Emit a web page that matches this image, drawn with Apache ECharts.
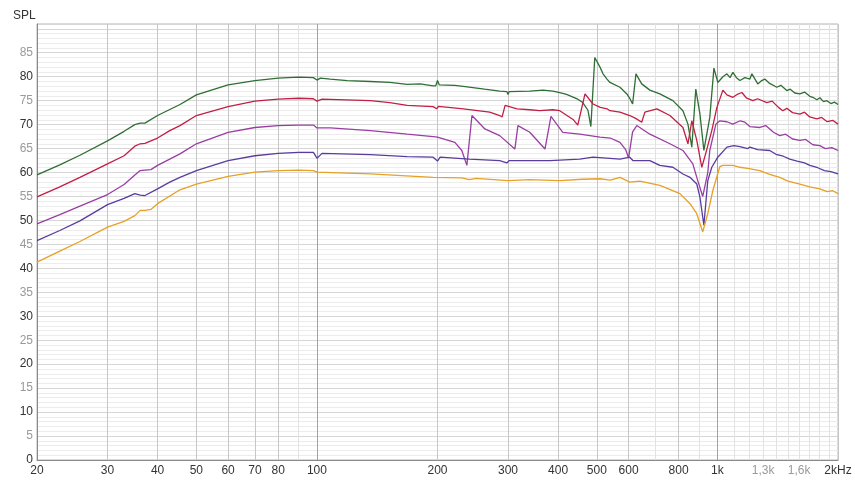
<!DOCTYPE html>
<html><head><meta charset="utf-8">
<script src="https://cdn.jsdelivr.net/npm/echarts@6/dist/echarts.min.js"></script>
<style>html,body{margin:0;padding:0;background:#fff}#c{width:855px;height:481px}</style>
</head><body><div id="c"></div>
<script>
// ---- axis ticks ----
const xTickFreqs = [20,30,40,50,60,70,80,100,200,300,400,500,600,800,1000,1300,1600,2000];
const xTickLabels = ['20','30','40','50','60','70','80','100','200','300','400','500','600','800','1k','1,3k','1,6k','2kHz'];
const xLineFreqs = [20,30,40,50,60,70,80,200,300,400,500,600,800,2000];
const xMinorFreqs = [90,700,900,1100,1200,1300,1400,1500,1600,1700,1800,1900];
const xDecadeFreqs = [100,1000];
const yMin = 0, yMax = 91, yLabelMax = 85;

// ---- series (frequency Hz, SPL dB) ----
const greenFreq = [20,22.8,25.6,30,33,35.1,36.2,37.2,40,45.5,50,60,70,80,90,98,100,102,108,119,136,152,168,181,195,198,200,202,221,232,262,286,298,300,302,340,367,388,404,420,448,461,475,483,494,509,518,530,539,571,594,604,614,626,647,678,718,774,820,844,863,883,904,925,957,980,1002,1032,1056,1075,1093,1115,1138,1171,1205,1219,1261,1290,1313,1350,1407,1440,1490,1520,1560,1606,1650,1701,1731,1771,1802,1840,1875,1920,1960,2000];
const greenDb   = [59.5,61.6,63.6,66.6,68.6,70.0,70.3,70.3,71.9,74.2,76.2,78.3,79.2,79.7,79.9,79.8,79.3,79.7,79.5,79.2,79.0,78.8,78.4,78.5,78.1,78.1,79.2,78.3,78.2,78.0,77.4,77.0,76.9,76.3,76.9,77.0,77.2,77.0,76.7,76.3,75.3,74.6,73.0,69.6,84.0,82.0,80.6,79.5,78.8,77.8,76.4,75.5,74.3,80.6,78.5,77.2,76.4,75.0,72.9,70.1,65.3,77.4,72.3,64.6,71.5,81.8,78.8,80.0,80.6,79.8,80.9,79.8,79.2,79.8,79.5,80.6,78.5,79.2,79.5,78.6,77.8,78.2,77.1,77.4,76.6,76.4,76.8,75.9,75.7,75.2,75.6,74.8,75.0,74.4,74.7,74.2];

const redFreq = [20,22.8,25.6,30,33,35.1,36.2,37.2,40,42.9,45.5,50,60,70,80,90,98,100,103,136,152,168,195,199,201,232,270,286,290,295,316,340,360,388,404,421,437,448,467,489,510,530,539,571,604,625,647,659,706,761,820,844,863,888,914,935,968,997,1032,1056,1093,1120,1151,1180,1226,1260,1328,1370,1420,1456,1490,1540,1606,1650,1700,1771,1820,1880,1940,2000];
const redDb   = [54.9,57.0,59.0,61.8,63.5,65.5,66.0,66.1,67.2,68.75,69.8,71.9,73.75,74.9,75.3,75.5,75.4,74.9,75.3,75.0,74.6,74.0,73.75,73.3,73.8,73.3,72.6,71.9,71.6,74.0,73.3,73.1,72.9,73.1,72.9,71.9,71.0,69.9,76.4,74.3,73.6,73.3,72.9,72.6,71.9,71.3,70.5,72.6,73.3,71.9,69.4,66.0,70.8,66.7,61.1,64.0,68.75,73.6,77.2,76.2,75.7,76.3,76.7,75.6,75.0,75.4,74.6,74.9,73.6,72.9,73.4,72.5,72.2,72.6,71.6,71.2,71.5,70.6,70.9,70.1];

const magentaFreq = [20,22.8,25.6,30,33,35.1,36.2,37.2,38.5,40,45.5,50,60,70,80,90,98,100,108,136,168,195,200,221,230,236.8,243.8,262.6,286,312,317.6,340,371,384,411,453,509,540,571,590,600,614,629,678,761,820,868,893,919,946,957,991,1014,1056,1093,1140,1171,1205,1276,1320,1380,1431,1480,1540,1606,1660,1731,1802,1860,1930,2000];
const magentaDb   = [49.3,51.2,53.0,55.4,57.5,59.5,60.4,60.5,60.6,61.5,63.9,66.0,68.4,69.4,69.8,69.9,69.9,69.3,69.3,68.75,68.0,67.5,67.4,66.3,64.6,61.5,71.9,69.1,67.7,64.9,69.8,68.4,64.9,71.7,68.4,68.0,67.4,67.2,66.3,64.8,63.0,68.5,69.8,68.0,66.0,64.6,61.8,58.3,55.0,60.0,64.6,70.1,70.8,70.6,70.1,70.8,70.5,69.6,69.4,69.8,68.4,67.7,68.0,67.0,66.7,66.9,65.8,65.6,65.0,65.2,64.6];

const purpleFreq = [20,22.8,25.6,30,33,35.1,36.2,37.2,40,42.9,45.5,50,60,70,80,90,98,100,103,136,168,195,200,203,240,286,298,302,382,453,489,571,604,615,678,718,774,820,854,888,904,925,946,968,1002,1056,1100,1138,1190,1205,1260,1351,1400,1460,1516,1580,1650,1701,1780,1850,1920,2000];
const purpleDb   = [45.8,47.9,49.9,53.3,54.6,55.6,55.3,55.2,56.6,58.0,59.0,60.4,62.5,63.5,64.0,64.2,64.2,63.0,64.0,63.75,63.3,63.2,62.4,63.2,62.8,62.5,62.0,62.5,62.5,62.8,63.2,62.8,63.2,62.5,62.5,61.5,61.1,59.7,59.0,57.6,54.9,49.0,58.3,61.1,63.2,65.3,65.6,65.4,65.0,65.3,64.8,64.6,63.8,63.4,62.8,62.4,62.0,61.5,61.0,60.4,60.2,59.7];

const orangeFreq = [20,22.8,25.6,30,33,35.1,36.2,37.2,38.5,40,45.5,50,60,70,80,90,98,100,136,195,230,240,250,300,340,404,460,509,540,571,604,640,718,760,806,854,888,919,946,974,1014,1032,1093,1138,1200,1276,1350,1431,1500,1606,1700,1802,1880,1940,2000];
const orangeDb   = [41.3,43.6,45.6,48.6,49.8,51.0,52.1,52.1,52.3,53.5,56.4,57.6,59.2,60.1,60.4,60.5,60.4,60.1,59.7,59.0,58.9,58.5,58.8,58.3,58.5,58.3,58.6,58.7,58.4,59.0,58.0,58.2,57.3,56.5,55.6,53.5,51.4,47.6,51.4,56.25,61.25,61.5,61.5,61.1,60.8,60.4,59.6,59.0,58.2,57.6,57.0,56.6,56.0,56.2,55.6];

const seriesDefs = [
  { freq: greenFreq, db: greenDb, color: '#2f6e34' },
  { freq: redFreq, db: redDb, color: '#c21f45' },
  { freq: magentaFreq, db: magentaDb, color: '#9a3ea4' },
  { freq: purpleFreq, db: purpleDb, color: '#5a3c9e' },
  { freq: orangeFreq, db: orangeDb, color: '#e6a126' }
];

const L = Math.log10;
const FONT = '"Liberation Sans", Arial, sans-serif';
const chart = echarts.init(document.getElementById('c'), null, { renderer: 'canvas' });

function xLabel(v) {
  for (let i = 0; i < xTickFreqs.length; i++) {
    if (Math.abs(L(xTickFreqs[i]) - Number(v)) < 1e-6) return xTickLabels[i];
  }
  return '';
}
function xLabelColor(v) {
  const t = xLabel(v);
  return (t === '1,3k' || t === '1,6k') ? '#9a9a9a' : '#333';
}

const baseX = {
  type: 'value', position: 'bottom', min: L(20), max: L(2000),
  axisLine: { show: false }, axisTick: { show: false }, axisLabel: { show: false }
};

const option = {
  animation: false,
  backgroundColor: '#fff',
  textStyle: { fontFamily: FONT },
  title: { text: 'SPL', left: 8, top: 5, textStyle: { fontSize: 12, fontWeight: 'normal', color: '#333', fontFamily: FONT } },
  grid: { left: 37, right: 17, top: 24, bottom: 21, show: true, borderColor: '#b5b5b5', borderWidth: 1, outerBoundsMode: 'none' },
  xAxis: [
    Object.assign({}, baseX, {
      axisTick: { show: false, customValues: xMinorFreqs.map(L) },
      splitLine: { show: true, lineStyle: { color: '#e2e2e2', width: 1 } }
    }),
    Object.assign({}, baseX, {
      axisLine: { show: true, onZero: false, lineStyle: { color: '#8a8a8a', width: 1 } },
      axisTick: { show: false, customValues: xLineFreqs.map(L) },
      axisLabel: { show: true, customValues: xTickFreqs.map(L), formatter: xLabel, color: xLabelColor, fontSize: 12, margin: 5, fontFamily: FONT },
      splitLine: { show: true, lineStyle: { color: '#c6c6c6', width: 1 } }
    }),
    Object.assign({}, baseX, {
      axisTick: { show: false, customValues: xDecadeFreqs.map(L) },
      splitLine: { show: true, lineStyle: { color: '#a2a2a2', width: 1 } }
    })
  ],
  yAxis: [
    {
      type: 'value', position: 'left', min: yMin, max: yMax, interval: 1,
      axisLine: { show: false }, axisTick: { show: false }, axisLabel: { show: false },
      splitLine: { show: true, lineStyle: { color: '#ececec', width: 1 } }
    },
    {
      type: 'value', position: 'left', min: yMin, max: yMax, interval: 5,
      axisLine: { show: true, onZero: false, lineStyle: { color: '#8a8a8a', width: 1 } },
      axisTick: { show: false },
      axisLabel: {
        fontSize: 12, margin: 4, fontFamily: FONT,
        formatter: v => (v > yLabelMax ? '' : String(v)),
        color: v => (Number(v) % 10 === 0 ? '#333' : '#9a9a9a')
      },
      splitLine: { show: true, lineStyle: { color: '#d6d6d6', width: 1 } }
    }
  ],
  series: seriesDefs.map(s => ({
    type: 'line',
    xAxisIndex: 1,
    yAxisIndex: 1,
    showSymbol: false,
    symbol: 'none',
    smooth: false,
    lineStyle: { color: s.color, width: 1.3 },
    itemStyle: { color: s.color },
    data: s.freq.map((f, i) => [L(f), s.db[i]])
  }))
};
chart.setOption(option);
</script>
</body></html>
